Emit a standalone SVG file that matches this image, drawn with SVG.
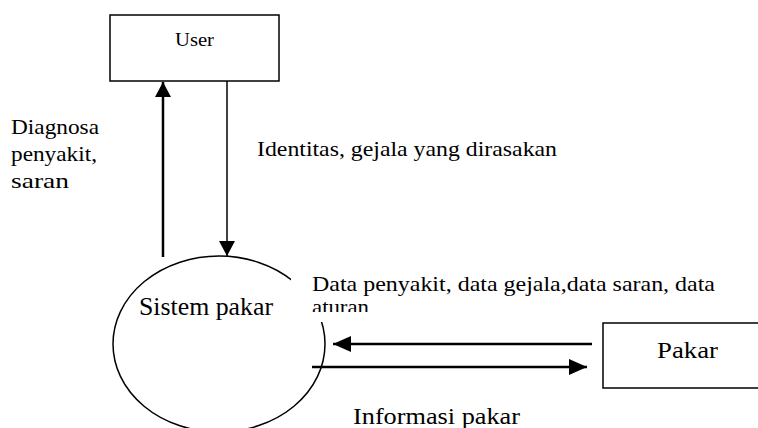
<svg xmlns="http://www.w3.org/2000/svg" width="758" height="428" viewBox="0 0 758 428" font-family="'Liberation Serif', 'Times New Roman', 'DejaVu Serif', serif">
  <defs>
    <marker id="arrow" viewBox="0 0 18 16" refX="18" refY="8" markerWidth="18" markerHeight="16" markerUnits="userSpaceOnUse" orient="auto">
      <path d="M0,0 L18,8 L0,16 z" fill="#000"/>
    </marker>
    <marker id="arrowV" viewBox="0 0 15 16" refX="15" refY="8" markerWidth="15" markerHeight="16" markerUnits="userSpaceOnUse" orient="auto">
      <path d="M0,0 L15,8 L0,16 z" fill="#000"/>
    </marker>
    <clipPath id="labelClip">
      <rect x="300" y="260" width="458" height="52"/>
    </clipPath>
  </defs>
  <style>
    text { font-family: 'Liberation Serif', 'Times New Roman', 'DejaVu Serif', serif; fill: #000; }
    .box { fill: #fff; stroke: #000; stroke-width: 1.5; }
    .line { fill: none; stroke: #000; }
  </style>
  <rect width="758" height="428" fill="#fff"/>

  <g id="sistem-pakar">
    <ellipse cx="219" cy="344" rx="106" ry="88" fill="none" stroke="#000" stroke-width="1.5"/>
    <text x="139" y="315" font-size="25" textLength="134" lengthAdjust="spacingAndGlyphs">Sistem pakar</text>
  </g>

  <g id="user">
    <rect class="box" x="110" y="15" width="169" height="66"/>
    <text x="175" y="46" font-size="19" textLength="39" lengthAdjust="spacingAndGlyphs">User</text>
  </g>

  <g id="pakar">
    <rect class="box" x="603" y="323" width="160" height="65"/>
    <text x="657" y="358" font-size="24" textLength="61" lengthAdjust="spacingAndGlyphs">Pakar</text>
  </g>

  <g id="connectors">
    <line class="line" x1="163" y1="257" x2="163" y2="82" stroke-width="2.5" marker-end="url(#arrowV)"/>
    <line class="line" x1="227" y1="81" x2="227" y2="256" stroke-width="1.5" marker-end="url(#arrowV)"/>
    <line class="line" x1="592" y1="344" x2="333" y2="344" stroke-width="2.5" marker-end="url(#arrow)"/>
    <line class="line" x1="312" y1="367" x2="587" y2="367" stroke-width="2.5" marker-end="url(#arrow)"/>
  </g>

  <g id="labels">
    <text x="11" y="134" font-size="21" textLength="88" lengthAdjust="spacingAndGlyphs">Diagnosa</text>
    <text x="11" y="161" font-size="21" textLength="86" lengthAdjust="spacingAndGlyphs">penyakit,</text>
    <text x="11" y="188" font-size="21" textLength="58" lengthAdjust="spacingAndGlyphs">saran</text>
    <text x="257" y="156" font-size="21" textLength="300" lengthAdjust="spacingAndGlyphs">Identitas, gejala yang dirasakan</text>
    <!-- white backing of the data label hides part of the ellipse outline -->
    <rect x="291" y="262" width="467" height="60" fill="#fff"/>
    <g clip-path="url(#labelClip)">
      <text x="312" y="291" font-size="22" textLength="403" lengthAdjust="spacingAndGlyphs">Data penyakit, data gejala,data saran, data</text>
      <text x="312" y="314" font-size="22" textLength="57" lengthAdjust="spacingAndGlyphs">aturan</text>
    </g>
    <text x="353" y="424" font-size="24" textLength="167" lengthAdjust="spacingAndGlyphs">Informasi pakar</text>
  </g>
</svg>
